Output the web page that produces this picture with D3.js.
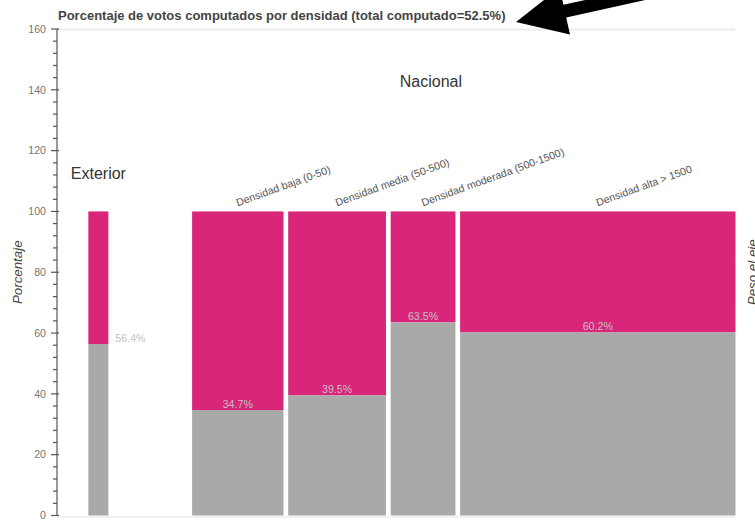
<!DOCTYPE html>
<html>
<head>
<meta charset="utf-8">
<script src="https://cdn.jsdelivr.net/npm/d3@7"></script>
<style>
  html, body { margin: 0; padding: 0; background: #fff; }
  svg { display: block; font-family: "Liberation Sans", Arial, Helvetica, sans-serif; }
</style>
</head>
<body>
<svg id="chart" width="755" height="520"></svg>
<script>
// ---- data ----
const categories = ["Exterior", "Densidad baja (0-50)", "Densidad media (50-500)", "Densidad moderada (500-1500)", "Densidad alta > 1500"];
const groups = ["Exterior", "Nacional", "Nacional", "Nacional", "Nacional"];
const weights = [4.51, 17.53, 18.70, 12.67, 51.10];          // ancho (peso) de cada barra
const computedPct = [56.4, 34.7, 39.5, 63.5, 60.2];          // % computado
const yTicks = [0, 20, 40, 60, 80, 100, 120, 140, 160];
const titleText = "Porcentaje de votos computados por densidad (total computado=52.5%)";

// ---- layout ----
const W = 755, H = 520;
const plot = { left: 57, right: 737.85, top: 29, bottom: 515.5 };
const groupStart = { "Exterior": -18.93, "Nacional": 0 };
const gap = 4.7;
const colGray = "#a9a9a9", colPink = "#d9257a";

const svg = d3.select("#chart");
const x = d3.scaleLinear().domain([-24.22, 100]).range([plot.left, plot.right]);
const y = d3.scaleLinear().domain([0, 160]).range([plot.bottom, plot.top]);

// compute bar start positions within groups
const bars = [];
const cum = {};
categories.forEach((c, i) => {
  const g = groups[i];
  if (cum[g] === undefined) cum[g] = groupStart[g];
  bars.push({ cat: c, group: g, start: cum[g], w: weights[i], v: computedPct[i] });
  cum[g] += weights[i];
});

// frame lines (top / bottom)
svg.append("line").attr("x1", plot.left).attr("x2", 735).attr("y1", y(160) + 0.5).attr("y2", y(160) + 0.5)
  .attr("stroke", "#ececec").attr("stroke-width", 2);
svg.append("line").attr("x1", plot.left).attr("x2", 735).attr("y1", y(0) + 1.5).attr("y2", y(0) + 1.5)
  .attr("stroke", "#ececec").attr("stroke-width", 1.5);

// bars
const bg = svg.append("g");
bars.forEach(b => {
  const x0 = x(b.start) + gap / 2;
  const bw = x(b.start + b.w) - x(b.start) - gap;
  bg.append("rect").attr("x", x0).attr("width", bw)
    .attr("y", y(100)).attr("height", y(b.v) - y(100)).attr("fill", colPink);
  bg.append("rect").attr("x", x0).attr("width", bw)
    .attr("y", y(b.v)).attr("height", y(0) - y(b.v)).attr("fill", colGray);
  // percentage label
  const lbl = bg.append("text").text(b.v.toFixed(1) + "%")
    .attr("font-size", "10.67px").attr("fill", "#c4c4c4")
    .attr("y", y(b.v) - 2);
  if (b.group === "Exterior") {
    lbl.attr("x", x0 + bw + 7).attr("text-anchor", "start");
  } else {
    lbl.attr("x", x0 + bw / 2).attr("text-anchor", "middle");
    // rotated category label
    const cx = x0 + bw / 2, cy = y(100) - 5;
    svg.append("text").text(b.cat)
      .attr("transform", `translate(${cx},${cy}) rotate(-20)`)
      .attr("font-size", "10.67px").attr("fill", "#555");
  }
});

// group labels
svg.append("text").text("Nacional").attr("x", x(44)).attr("y", y(141))
  .attr("text-anchor", "middle").attr("font-size", "16px").attr("fill", "#333");
svg.append("text").text("Exterior").attr("x", x(-21.7)).attr("y", y(110.7))
  .attr("text-anchor", "start").attr("font-size", "16px").attr("fill", "#333");

// y axis
const axisG = svg.append("g").attr("transform", `translate(${plot.left},0)`);
axisG.append("line").attr("x1", 0).attr("x2", 0).attr("y1", y(160)).attr("y2", y(0))
  .attr("stroke", "#555").attr("stroke-width", 1.2);
const minor = d3.range(0, 161, 4).filter(v => !yTicks.includes(v));
axisG.selectAll("line.minor").data(minor).join("line").attr("class", "minor")
  .attr("x1", -4).attr("x2", 0).attr("y1", d => y(d)).attr("y2", d => y(d))
  .attr("stroke", "#555").attr("stroke-width", 1.2);
axisG.selectAll("line.major").data(yTicks).join("line").attr("class", "major")
  .attr("x1", -6).attr("x2", 2).attr("y1", d => y(d)).attr("y2", d => y(d))
  .attr("stroke", "#555").attr("stroke-width", 1.2);
axisG.selectAll("text.tick").data(yTicks).join("text").attr("class", "tick")
  .attr("x", -11).attr("y", d => y(d)).attr("dy", "0.35em")
  .attr("text-anchor", "end").attr("font-size", "10.67px").attr("fill", "#777")
  .text(d => d);

// axis labels
svg.append("text").text("Porcentaje")
  .attr("transform", `translate(22,${(y(0) + y(160)) / 2}) rotate(-90)`)
  .attr("text-anchor", "middle").attr("font-size", "13.33px").attr("font-style", "italic").attr("fill", "#444");
svg.append("text").text("Peso el eje")
  .attr("transform", `translate(757,${(y(0) + y(160)) / 2}) rotate(-90)`)
  .attr("text-anchor", "middle").attr("font-size", "13.33px").attr("font-style", "italic").attr("fill", "#444");

// title
svg.append("text").text(titleText).attr("x", 58).attr("y", 20)
  .attr("font-size", "13px").attr("font-weight", "bold").attr("fill", "#444");

// annotation arrow
const tip = [516, 22], ang = 12.5 * Math.PI / 180;
const u = [Math.cos(ang), -Math.sin(ang)], n = [Math.sin(ang), Math.cos(ang)];
const P = (l, w) => [tip[0] + l * u[0] + w * n[0], tip[1] + l * u[1] + w * n[1]];
const arrowPts = [tip, P(50, 24), P(50, 6.5), P(320, 6.5), P(320, -6.5), P(50, -6.5), P(50, -24)];
svg.append("path").attr("d", d3.line()(arrowPts) + "Z").attr("fill", "#000");
</script>
</body>
</html>
